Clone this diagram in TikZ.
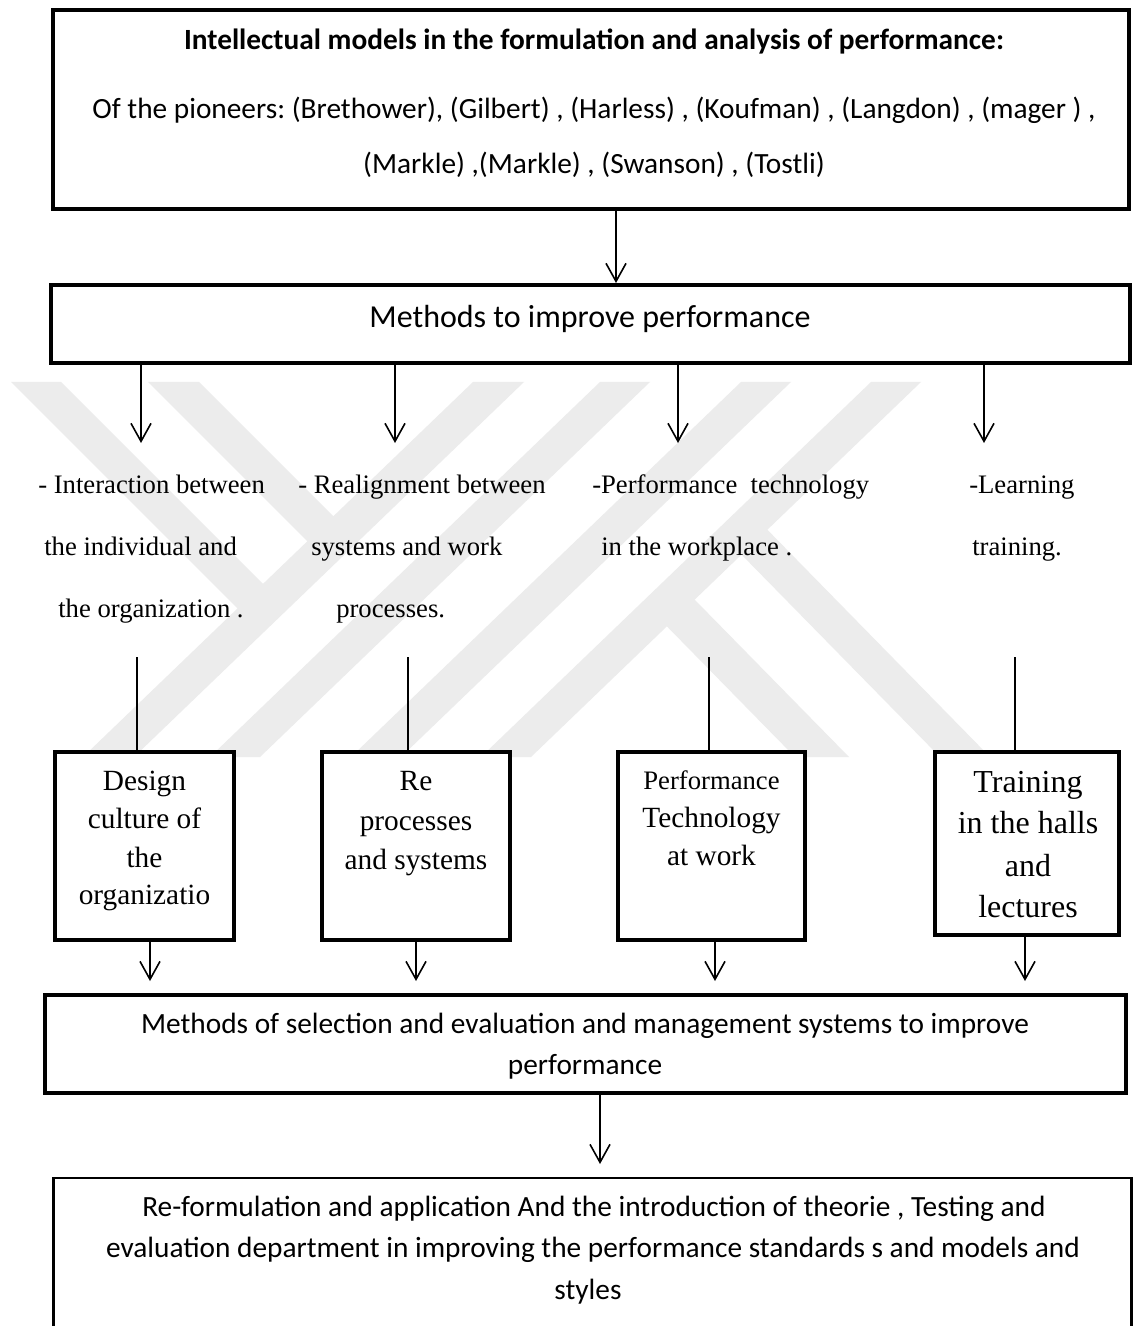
\documentclass[tikz,border=0pt]{standalone}
\usepackage{fontspec}
\setmainfont{Liberation Serif}
\newfontfamily\calfont{Carlito}
\usetikzlibrary{arrows.meta,calc}
\definecolor{wm}{gray}{0.925}
\frenchspacing
\tikzset{
 box/.style={draw=black, line width=3pt, fill=white, inner sep=0pt},
 arr/.style={line width=1.2pt, -{Straight Barb[length=13.5pt,width=15pt,line width=1.2pt]}},
 con/.style={line width=1pt},
 colt/.style={inner sep=0pt, anchor=base west, font=\fontsize{20}{24}\selectfont},
 cal/.style={inner sep=0pt, anchor=base, font=\calfont\fontsize{22}{26}\selectfont},
 boxt/.style={inner sep=0pt, anchor=base, font=\fontsize{22}{26}\selectfont},
}
\begin{document}
\begin{tikzpicture}[x=0.75pt,y=-0.75pt]
\useasboundingbox (0,0) rectangle (1133,1326);
\fill[white] (0,0) rectangle (1133,1326);
% watermark
\begin{scope}
\clip (0,382) rectangle (1133,757);
\fill[wm] (473,382)--(524,382)--(134,757)--(83,757)--cycle;
\fill[wm] (600,382)--(650,382)--(260,757)--(210,757)--cycle;
\fill[wm] (741,382)--(791,382)--(401,757)--(351,757)--cycle;
\fill[wm] (871,382)--(921,382)--(531,757)--(481,757)--cycle;
\fill[wm] (11,382)--(61,382)--(278,599)--(252,623)--cycle;
\fill[wm] (148,382)--(199,382)--(343,526)--(317,551)--cycle;
\fill[wm] (643,602)--(695,600)--(849,757)--(795,757)--cycle;
\fill[wm] (731.7,544.6)--(757.7,519.9)--(990,757)--(940,757)--cycle;
\end{scope}

% boxes
\node[box, minimum width=807pt, minimum height=149pt] (T) at (591,109.5) {};
\node[box, minimum width=809pt, minimum height=58.5pt] (M) at (590.5,324) {};
\node[box, minimum width=134pt, minimum height=141pt] (B1) at (144.5,846) {};
\node[box, minimum width=141pt, minimum height=141pt] (B2) at (416,846) {};
\node[box, minimum width=140pt, minimum height=141pt] (B3) at (711.5,846) {};
\node[box, minimum width=138pt, minimum height=137pt] (B4) at (1027,843.5) {};
\node[box, minimum width=810.75pt, minimum height=73.5pt] (B5) at (585.5,1044) {};
\node[box, line width=2.2pt, minimum width=808pt, minimum height=165pt] (B6) at (592.5,1288) {};

% top box text
\node[cal, font=\calfont\bfseries\fontsize{22}{26}\selectfont] (Tt) at (594,50) {Intellectual models in the formulation and analysis of performance:};
\node[cal] (Tp1) at (594,119) {Of the pioneers: (Brethower), (Gilbert) , (Harless) , (Koufman) , (Langdon) , (mager ) ,};
\node[cal] (Tp2) at (594,174) {(Markle) ,(Markle) , (Swanson) , (Tostli)};
\node[cal, font=\calfont\fontsize{24}{28}\selectfont] (Mt) at (590,328) {Methods to improve performance};

% column texts
\node[colt] (c1a) at (38,493) {- Interaction between};
\node[colt] (c1b) at (44,555) {the individual and};
\node[colt] (c1c) at (58,617) {the organization .};
\node[colt] (c2a) at (298,493) {- Realignment between};
\node[colt] (c2b) at (311,555) {systems and work};
\node[colt] (c2c) at (336,617) {processes.};
\node[colt] (c3a) at (592,493) {-Performance\ \ technology};
\node[colt] (c3b) at (601,555) {in the workplace .};
\node[colt] (c4a) at (969,493) {-Learning};
\node[colt] (c4b) at (972,555) {training.};

% box texts
\node[boxt] (b1a) at (144.5,790) {Design};
\node[boxt] (b1b) at (144.5,828) {culture of};
\node[boxt] (b1c) at (144.5,867) {the};
\node[boxt] (b1d) at (144.5,904) {organizatio};
\node[boxt] (b2a) at (416,790) {Re};
\node[boxt] (b2b) at (416,830) {processes};
\node[boxt] (b2c) at (416,869) {and systems};
\node[boxt, font=\fontsize{20}{24}\selectfont] (b3a) at (711.5,789) {Performance};
\node[boxt] (b3b) at (711.5,827) {Technology};
\node[boxt] (b3c) at (711.5,865) {at work};
\node[boxt, font=\fontsize{24}{28}\selectfont] (b4a) at (1028,792) {Training};
\node[boxt, font=\fontsize{24}{28}\selectfont] (b4b) at (1028,833) {in the halls};
\node[boxt, font=\fontsize{24}{28}\selectfont] (b4c) at (1028,876) {and};
\node[boxt, font=\fontsize{24}{28}\selectfont] (b4d) at (1028,917) {lectures};

% lower box texts
\node[cal] (b5a) at (585,1033) {Methods of selection and evaluation and management systems to improve};
\node[cal] (b5b) at (585,1074) {performance};
\node[cal] (b6a) at (594,1216) {Re-formulation and application And the introduction of theorie , Testing and};
\node[cal] (b6b) at (593,1257.5) {evaluation department in improving the performance standards s and models and};
\node[cal] (b6c) at (588,1299) {styles};

% coordinates
\coordinate (a0) at (616,0);
\coordinate (m1) at (141,443);
\coordinate (m2) at (395,443);
\coordinate (m3) at (678,443);
\coordinate (m4) at (984,443);
\coordinate (l1) at (137,657);
\coordinate (l2) at (408,657);
\coordinate (l3) at (709,657);
\coordinate (l4) at (1015,657);
\coordinate (d1) at (150,981);
\coordinate (d2) at (416,981);
\coordinate (d3) at (715,981);
\coordinate (d4) at (1025,981);
\coordinate (e0) at (600,1164);

% connectors
\draw[arr] (T.south -| a0) -- (M.north -| a0);
\foreach \i in {1,2,3,4} {
  \draw[arr] (M.south -| m\i) -- (m\i);
  \draw[con] (l\i) -- (l\i |- B\i.north);
  \draw[arr] (B\i.south -| d\i) -- (d\i);
}
\draw[arr] (B5.south -| e0) -- (e0);
\end{tikzpicture}
\end{document}
